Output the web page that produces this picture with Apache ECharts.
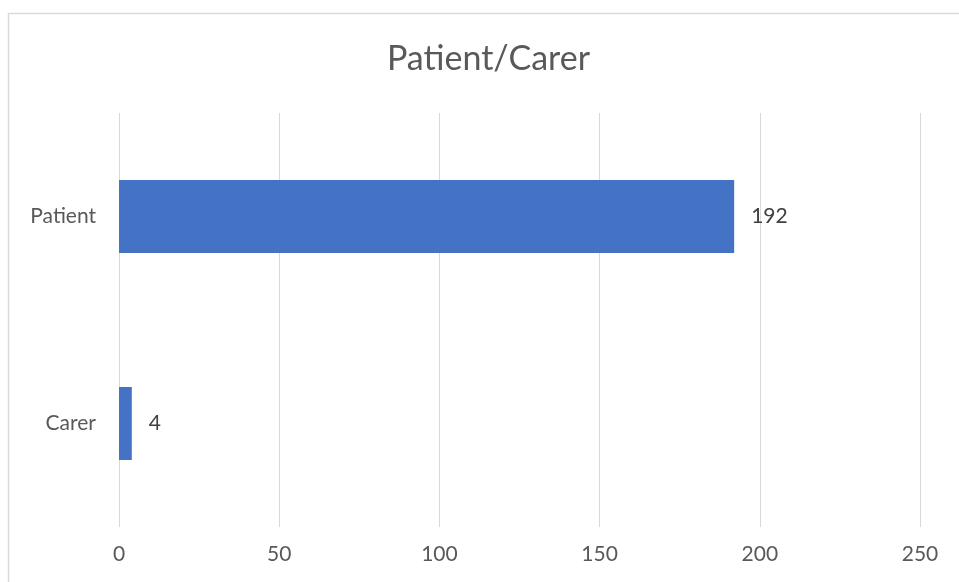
<!DOCTYPE html>
<html><head><meta charset="utf-8">
<script src="https://cdn.jsdelivr.net/npm/echarts@6/dist/echarts.min.js"></script>
<style>html,body{margin:0;padding:0;background:#fff}#c{width:959px;height:582px}</style>
</head><body><div id="c"></div>
<script>
const categories = ['Carer', 'Patient'];
const values = [4, 192];
const xTicks = [0, 50, 100, 150, 200, 250];

const chart = echarts.init(document.getElementById('c'), null, {renderer: 'canvas'});
const font = 'Lato, "Open Sans", sans-serif';
chart.setOption({
  animation: false,
  backgroundColor: '#fff',
  graphic: [{
    type: 'rect', shape: {x: 8.5, y: 13.5, width: 1000, height: 700},
    style: {fill: 'none', stroke: '#d9d9d9', lineWidth: 1.5}, silent: true, z: -1
  }],
  title: {
    text: 'Patient/Carer', left: 382, top: 37,
    textStyle: {fontFamily: font, fontSize: 34, fontWeight: 'normal', color: '#595959'}
  },
  grid: {left: 119, right: 39, top: 113, bottom: 55, containLabel: false},
  xAxis: {
    type: 'value', min: xTicks[0], max: xTicks[xTicks.length - 1], interval: 50,
    axisLine: {show: false}, axisTick: {show: false},
    splitLine: {show: true, lineStyle: {color: '#d9d9d9', width: 1}},
    axisLabel: {fontFamily: font, fontSize: 21, color: '#595959', margin: 17}
  },
  yAxis: {
    type: 'category', data: categories,
    axisLine: {show: false}, axisTick: {show: false},
    axisLabel: {fontFamily: font, fontSize: 21, color: '#595959', margin: 23}
  },
  series: [{
    type: 'bar', data: values, barWidth: 73,
    itemStyle: {color: '#4472c4'},
    label: {show: true, position: 'right', distance: 17, fontFamily: font, fontSize: 21, color: '#404040'}
  }]
});
</script></body></html>
